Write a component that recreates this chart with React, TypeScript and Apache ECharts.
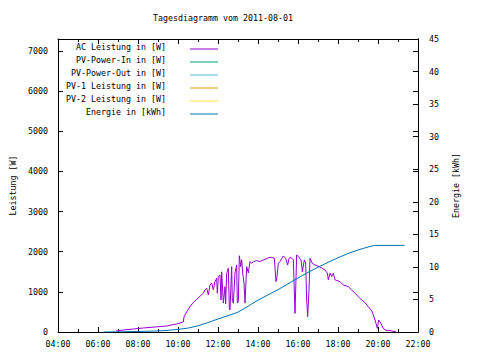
import React, { useEffect, useRef } from 'react';
import * as echarts from 'echarts';

const FONT = 'DejaVu Sans Mono';
const chartTitle = 'Tagesdiagramm vom 2011-08-01';
const leftAxisName = 'Leistung [W]';
const rightAxisName = 'Energie [kWh]';

const seriesNames = [
  'AC Leistung in [W]',
  'PV-Power-In in [W]',
  'PV-Power-Out in [W]',
  'PV-1 Leistung in [W]',
  'PV-2 Leistung in [W]',
  'Energie in [kWh]',
];
const seriesColors = ['#9400D3', '#009E73', '#56B4E9', '#E69F00', '#F0E442', '#0072B2'];

// AC power (W)
const acTimes = [
  '06:54', '07:16', '07:46', '08:16', '08:51', '09:26', '09:41', '09:56', '10:06', '10:16',
  '10:18', '10:26', '10:36', '10:46', '10:56', '11:06', '11:16', '11:21', '11:26', '11:31',
  '11:36', '11:41', '11:46', '11:51', '11:56', '11:58', '12:01', '12:06', '12:09', '12:11',
  '12:16', '12:21', '12:23', '12:26', '12:31', '12:34', '12:36', '12:41', '12:43', '12:46',
  '12:51', '12:56', '12:58', '13:01', '13:04', '13:08', '13:11', '13:14', '13:18', '13:21',
  '13:26', '13:31', '13:36', '13:41', '13:46', '13:56', '14:06', '14:11', '14:21', '14:31',
  '14:41', '14:49', '14:54', '14:57', '15:01', '15:06', '15:16', '15:23', '15:29', '15:33',
  '15:39', '15:46', '15:51', '15:56', '16:01', '16:09', '16:13', '16:19', '16:23', '16:26',
  '16:29', '16:33', '16:36', '16:43', '16:51', '17:06', '17:21', '17:28', '17:31', '17:36',
  '17:41', '17:46', '17:51', '18:06', '18:16', '18:31', '18:41', '18:51', '19:01', '19:11',
  '19:21', '19:31', '19:41', '19:48', '19:54', '19:58', '20:02', '20:08', '20:14', '20:21',
  '20:36', '20:51', '20:54',
];
const acPower = [
  25, 50, 75, 100, 125, 150, 175, 200, 225, 250,
  375, 500, 630, 740, 815, 890, 965, 1050, 1090, 925,
  1170, 1220, 1050, 1255, 1340, 965, 1380, 1420, 800, 1500,
  720, 1130, 700, 1460, 1590, 600, 550, 1630, 760, 715,
  1470, 1670, 720, 760, 1900, 1630, 1800, 1470, 1220, 720,
  1630, 1470, 1755, 1710, 1750, 1780, 1755, 1780, 1810, 1850,
  1860, 1835, 1255, 1380, 1710, 1755, 1895, 1835, 1670, 1835,
  1860, 1795, 465, 1920, 1880, 1795, 1500, 1795, 1720, 800,
  380, 1050, 1835, 1710, 1670, 1620, 1545, 1465, 1300, 1465,
  1380, 1465, 1300, 1255, 1170, 1130, 1050, 965, 880, 800,
  730, 630, 530, 380, 215, 90, 300, 230, 115, 50,
  35, 10, 0,
];

// Energy (kWh)
const energyTimes = [
  '06:18', '07:00', '08:00', '09:00', '09:30', '10:00', '10:30', '11:00', '11:30', '12:00',
  '12:30', '13:00', '13:30', '14:00', '14:30', '15:00', '15:30', '16:00', '16:30', '17:00',
  '17:30', '18:00', '18:30', '19:00', '19:30', '19:50', '21:20',
];
const energyKWh = [
  0, 0.02, 0.08, 0.17, 0.25, 0.4, 0.6, 0.95, 1.45, 2.0,
  2.5, 3.05, 3.95, 4.9, 5.7, 6.5, 7.4, 8.3, 9.15, 9.95,
  10.7, 11.4, 12.05, 12.6, 13.05, 13.3, 13.3,
];

const toHours = (t: string) => {
  const [h, m] = t.split(':').map(Number);
  return h + m / 60;
};

export default function App() {
  const ref = useRef<HTMLDivElement>(null);
  useEffect(() => {
    if (!ref.current) return;
    const chart = echarts.init(ref.current, undefined, { renderer: 'svg' });
    const txt = { fontFamily: FONT, fontSize: 8.3, color: '#000' };
    const axisLine = { show: true, onZero: false, lineStyle: { color: '#000', width: 1 } };
    const tick = { show: true, inside: true, length: 5, lineStyle: { color: '#000' } };
    const legendRowsY = [47, 60, 73, 86, 99, 112];
    const graphics: any[] = [
      {
        type: 'text',
        x: 223,
        y: 18,
        style: { text: chartTitle, font: `8.3px ${FONT}`, fill: '#000', textAlign: 'center', textVerticalAlign: 'middle' },
      },
    ];
    seriesNames.forEach((n, i) => {
      graphics.push({
        type: 'text',
        x: 166,
        y: legendRowsY[i],
        style: { text: n, font: `8.3px ${FONT}`, fill: '#000', textAlign: 'right', textVerticalAlign: 'middle' },
      });
      graphics.push({
        type: 'line',
        shape: { x1: 190, y1: legendRowsY[i] + 2, x2: 218, y2: legendRowsY[i] + 2 },
        style: { stroke: seriesColors[i], lineWidth: 1 },
      });
    });

    const series: any[] = seriesNames.map((name, i) => {
      let data: number[][] = [];
      if (i === 0) data = acTimes.map((t, k) => [toHours(t), acPower[k]]);
      if (i === 5) data = energyTimes.map((t, k) => [toHours(t), energyKWh[k]]);
      return {
        type: 'line',
        name,
        data,
        xAxisIndex: 0,
        yAxisIndex: i === 5 ? 1 : 0,
        symbol: 'none',
        color: seriesColors[i],
        lineStyle: { color: seriesColors[i], width: 1 },
      };
    });

    const plain = (v: number) => String(v);

    chart.setOption({
      animation: false,
      backgroundColor: '#fff',
      grid: { left: 58, right: 62, top: 39, bottom: 28, containLabel: false },
      legend: { show: false },
      graphic: graphics,
      xAxis: [
        {
          type: 'value',
          min: 4,
          max: 22,
          interval: 2,
          position: 'bottom',
          axisLine,
          axisTick: tick,
          minorTick: { show: true, splitNumber: 2, length: 3, lineStyle: { color: '#000' } },
          splitLine: { show: false },
          axisLabel: { ...txt, margin: 8, formatter: (v: number) => String(v).padStart(2, '0') + ':00' },
        },
        {
          type: 'value',
          min: 4,
          max: 22,
          interval: 2,
          position: 'top',
          axisLine,
          axisTick: tick,
          minorTick: { show: true, splitNumber: 2, length: 3, lineStyle: { color: '#000' } },
          splitLine: { show: false },
          axisLabel: { show: false },
        },
      ],
      yAxis: [
        {
          type: 'value',
          min: 0,
          max: 7300,
          interval: 1000,
          position: 'left',
          name: leftAxisName,
          nameLocation: 'middle',
          nameRotate: 90,
          nameGap: 38,
          nameTextStyle: txt,
          axisLine,
          axisTick: tick,
          splitLine: { show: false },
          axisLabel: { ...txt, margin: 10, showMaxLabel: false, formatter: plain },
        },
        {
          type: 'value',
          min: 0,
          max: 45,
          interval: 5,
          position: 'right',
          offset: 0,
          name: rightAxisName,
          nameLocation: 'middle',
          nameRotate: 90,
          nameGap: 34,
          nameTextStyle: txt,
          axisLine,
          axisTick: tick,
          splitLine: { show: false },
          axisLabel: { ...txt, margin: 11, formatter: plain },
        },
        {
          type: 'value',
          min: 0,
          max: 7300,
          interval: 1000,
          position: 'right',
          offset: 0,
          axisLine,
          axisTick: tick,
          splitLine: { show: false },
          axisLabel: { show: false },
        },
      ],
      series,
    });
    return () => chart.dispose();
  }, []);
  return <div ref={ref} style={{ position: 'fixed', left: 0, top: 0, width: 480, height: 360 }} />;
}
